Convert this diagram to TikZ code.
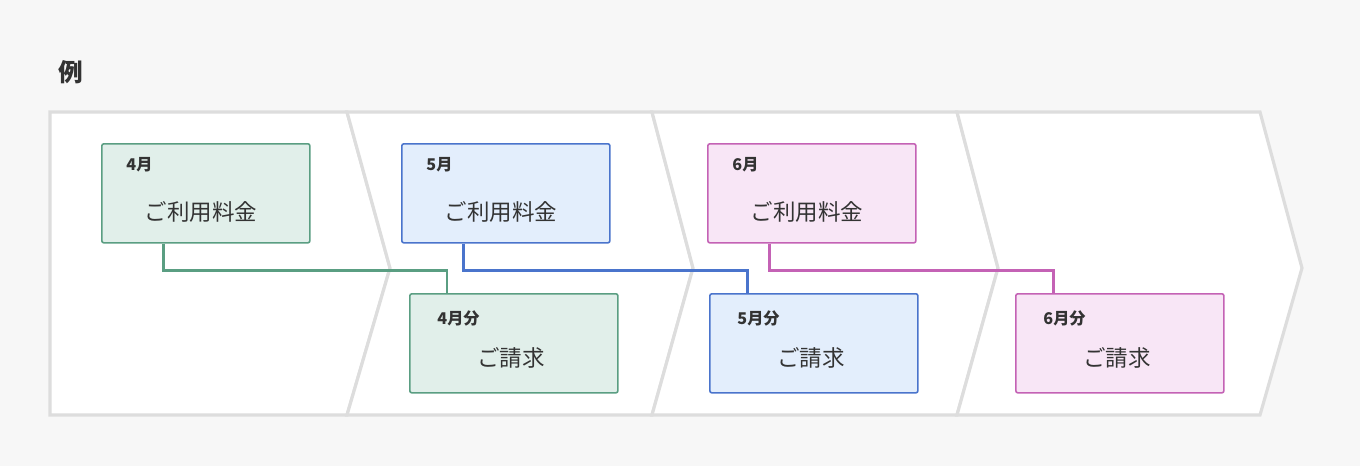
\documentclass[tikz,border=0pt]{standalone}
\usepackage{fontspec}
\setmainfont{Noto Sans CJK JP}
\definecolor{bgc}{HTML}{F7F7F7}
\definecolor{bandc}{HTML}{DDDDDD}
\definecolor{grnl}{HTML}{5A9E82}
\definecolor{grnf}{HTML}{E1EFEA}
\definecolor{blul}{HTML}{4A74CC}
\definecolor{bluf}{HTML}{E3EEFC}
\definecolor{pnkl}{HTML}{C462B5}
\definecolor{pnkf}{HTML}{F8E6F6}
\tikzset{
  band/.style={fill=white, draw=bandc, line width=0.9pt, line join=miter},
  mbox/.style={draw=#1l, fill=#1f, line width=0.45pt, rounded corners=0.6pt, minimum width=2.08cm, minimum height=0.99cm, anchor=north west, inner sep=0pt},
  link/.style={draw=#1l, line width=0.85pt},
  tag/.style={anchor=west, font=\fontsize{4.6}{5}\selectfont\bfseries, text=black!80},
  big/.style={font=\fontsize{6.4}{7}\selectfont, text=black!80}
}
\begin{document}
\begin{tikzpicture}[x=0.01cm, y=-0.01cm]
    \fill [bgc] (0,0) rectangle (1360,466);
    \useasboundingbox (0,0) rectangle (1360,466);
    \node [anchor=west, font=\fontsize{7}{8}\selectfont\bfseries, text=black!80] (title) at (46,72) {例};
    % chevron band
    \draw [band] (50,112)--(347,112)--(390,268)--(347,415)--(50,415)--cycle;
    \draw [band] (347,112)--(652,112)--(693,268)--(652,415)--(347,415)--(390,268)--cycle;
    \draw [band] (652,112)--(957,112)--(998,268)--(957,415)--(652,415)--(693,268)--cycle;
    \draw [band] (957,112)--(1260,112)--(1302,268)--(1260,415)--(957,415)--(998,268)--cycle;
    % usage and billing boxes
    \foreach \m/\c/\ux/\bx in {4/grn/101/409, 5/blu/401/709, 6/pnk/707/1015} {
        \node [mbox=\c] (use\m) at (\ux,143) {};
        \node [mbox=\c] (bill\m) at (\bx,293) {};
        \draw [link=\c] ([xshift=-12]use\m.south) -- ++(0,27) -| (bill\m.north -| {\bx+38},0);
        \node [tag] (ut\m) at (\ux+13,165) {\m 月};
        \node [big] (ub\m) at (\ux+100,212) {ご利用料金};
        \node [tag] (bt\m) at (\bx+16,318) {\m 月分};
        \node [big] (bb\m) at (\bx+102,358) {ご請求};
    }
\end{tikzpicture}
\end{document}
